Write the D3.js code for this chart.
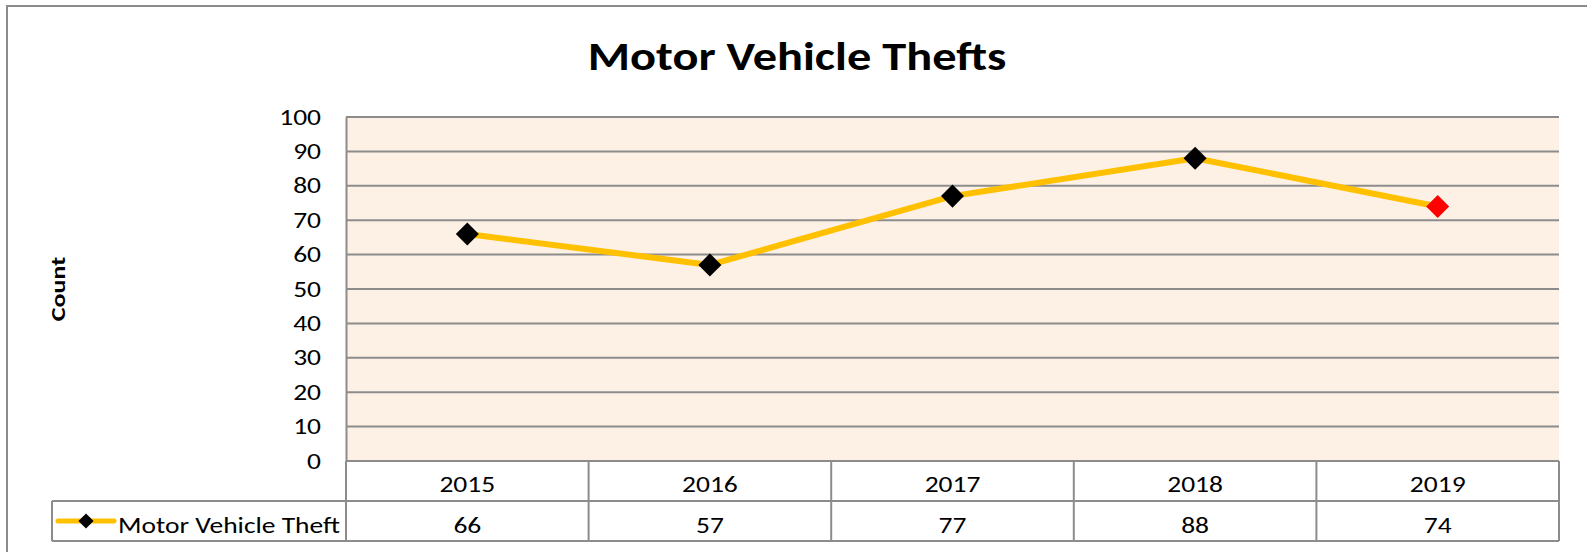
<!DOCTYPE html>
<html>
<head>
<meta charset="utf-8">
<script src="https://cdn.jsdelivr.net/npm/d3@7"></script>
<style>
  body { margin: 0; background: #fff; }
  text { font-family: Carlito, Calibri, Lato, sans-serif; fill: #000; }
</style>
</head>
<body>
<div id="chart"></div>
<script>
// data
const years = ["2015", "2016", "2017", "2018", "2019"];
const thefts = [66, 57, 77, 88, 74];
const seriesName = "Motor Vehicle Theft";
const yTicks = [0, 10, 20, 30, 40, 50, 60, 70, 80, 90, 100];

const width = 1587, height = 552;
const margin = {top: 117, right: 28, bottom: 91, left: 346};
const rowH = 40;
const grey = "#8c8c8c";
const stretch = 1.25; // the original is a bit wider than the font

const svg = d3.select("#chart").append("svg")
    .attr("width", width)
    .attr("height", height);

// places a horizontally stretched label at (x, y)
function label(g, x0, y0, anchor, size, str) {
  return g.append("text")
      .attr("transform", `translate(${x0},${y0}) scale(${stretch},1)`)
      .attr("text-anchor", anchor)
      .attr("font-size", size)
      .text(str);
}

// outer chart border (cropped at right and bottom)
svg.append("rect")
    .attr("x", 7).attr("y", 6)
    .attr("width", width + 10).attr("height", height + 10)
    .attr("fill", "#fff")
    .attr("stroke", grey).attr("stroke-width", 2);

const x = d3.scaleBand()
    .domain(years)
    .range([margin.left, width - margin.right]);

const y = d3.scaleLinear()
    .domain([0, 100])
    .range([height - margin.bottom, margin.top]);

// plot background
svg.append("rect")
    .attr("x", x.range()[0]).attr("y", y(100))
    .attr("width", x.range()[1] - x.range()[0])
    .attr("height", y(0) - y(100))
    .attr("fill", "#fdf1e6");

// gridlines
svg.append("g")
    .selectAll("line")
    .data(yTicks)
    .join("line")
      .attr("x1", x.range()[0]).attr("x2", x.range()[1])
      .attr("y1", d => y(d)).attr("y2", d => y(d))
      .attr("stroke", grey).attr("stroke-width", 2);

// y axis
svg.append("g")
    .attr("transform", `translate(${margin.left},0)`)
    .call(d3.axisLeft(y).tickValues(yTicks).tickSize(0).tickPadding(25))
    .call(g => g.select(".domain").attr("stroke", grey).attr("stroke-width", 2))
    .call(g => g.selectAll(".tick text")
        .attr("x", -25 / stretch)
        .attr("transform", `scale(${stretch},1)`)
        .attr("font-size", 22)
        .attr("font-family", "Carlito, Calibri, Lato, sans-serif"));

// y axis title
svg.append("text")
    .attr("transform", `translate(65,${(y(0) + y(100)) / 2}) rotate(-90) scale(1.3,1)`)
    .attr("text-anchor", "middle")
    .attr("font-size", 20)
    .attr("font-weight", "bold")
    .text("Count");

// chart title
svg.append("text")
    .attr("transform", "translate(797,70) scale(1.21,1)")
    .attr("text-anchor", "middle")
    .attr("font-size", 40)
    .attr("font-weight", "bold")
    .text("Motor Vehicle Thefts");

// data table below the plot
const t0 = y(0);
const table = svg.append("g")
    .attr("fill", "none").attr("stroke", grey).attr("stroke-width", 2);

table.selectAll("line.col")
    .data(years.concat(["end"]))
    .join("line")
      .attr("class", "col")
      .attr("x1", (d, i) => i < years.length ? x(d) : x.range()[1])
      .attr("x2", (d, i) => i < years.length ? x(d) : x.range()[1])
      .attr("y1", t0).attr("y2", t0 + 2 * rowH);

table.append("line")
    .attr("x1", 52).attr("x2", x.range()[1])
    .attr("y1", t0 + rowH).attr("y2", t0 + rowH);
table.append("line")
    .attr("x1", 52).attr("x2", x.range()[1])
    .attr("y1", t0 + 2 * rowH).attr("y2", t0 + 2 * rowH);
table.append("line")
    .attr("x1", 52).attr("x2", 52)
    .attr("y1", t0 + rowH).attr("y2", t0 + 2 * rowH);

const cells = svg.append("g");
years.forEach(d => label(cells, x(d) + x.bandwidth() / 2, t0 + 31, "middle", 22, d));
thefts.forEach((d, i) =>
  label(cells, x(years[i]) + x.bandwidth() / 2, t0 + rowH + 32, "middle", 22, d));

// legend key inside the table
const ly = t0 + rowH + rowH / 2;
svg.append("line")
    .attr("x1", 58).attr("x2", 114)
    .attr("y1", ly).attr("y2", ly)
    .attr("stroke", "#ffc000").attr("stroke-width", 5)
    .attr("stroke-linecap", "round");
svg.append("path")
    .attr("d", d3.symbol().type(d3.symbolSquare).size(115))
    .attr("transform", `translate(86,${ly}) rotate(45)`)
    .attr("fill", "#000");
label(svg, 118, t0 + rowH + 32, "start", 22, seriesName);

// series line
const line = d3.line()
    .x((d, i) => x(years[i]) + x.bandwidth() / 2)
    .y(d => y(d));

svg.append("path")
    .datum(thefts)
    .attr("fill", "none")
    .attr("stroke", "#ffc000")
    .attr("stroke-width", 6)
    .attr("stroke-linejoin", "round")
    .attr("d", line);

svg.append("g")
    .selectAll("path")
    .data(thefts)
    .join("path")
      .attr("d", d3.symbol().type(d3.symbolSquare).size(265))
      .attr("transform", (d, i) =>
        `translate(${x(years[i]) + x.bandwidth() / 2},${y(d)}) rotate(45)`)
      .attr("fill", (d, i) => i === thefts.length - 1 ? "#ff0000" : "#000");
</script>
</body>
</html>
